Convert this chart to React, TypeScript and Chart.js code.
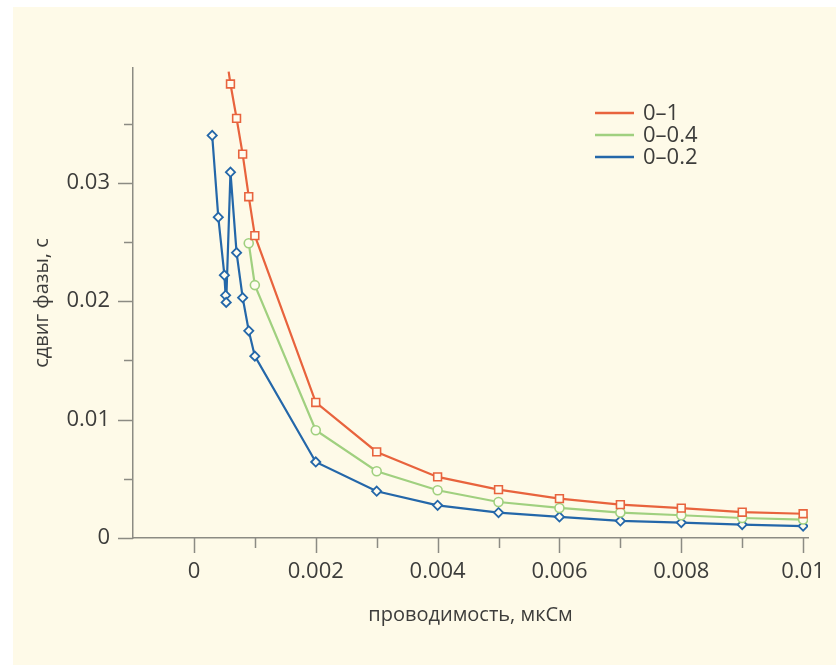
import { useEffect, useRef } from 'react';
import { Chart, registerables } from 'chart.js';

Chart.register(...registerables);

// ---- data ----
const seriesLabels = ['0–1', '0–0.4', '0–0.2'];

const xRed = [0.00057, 0.0006, 0.0007, 0.0008, 0.0009, 0.001, 0.002, 0.003, 0.004, 0.005, 0.006, 0.007, 0.008, 0.009, 0.01];
const yRed = [0.0394, 0.03835, 0.03545, 0.03243, 0.02883, 0.02554, 0.01145, 0.00727, 0.00516, 0.00409, 0.00333, 0.00282, 0.00252, 0.00218, 0.00205];

const xGreen = [0.0009, 0.001, 0.002, 0.003, 0.004, 0.005, 0.006, 0.007, 0.008, 0.009, 0.01];
const yGreen = [0.0249, 0.02136, 0.0091, 0.00564, 0.00403, 0.00304, 0.00254, 0.00215, 0.00192, 0.00169, 0.00156];

const xBlue = [0.0003, 0.0004, 0.0005, 0.00052, 0.00053, 0.0006, 0.0007, 0.0008, 0.0009, 0.001, 0.002, 0.003, 0.004, 0.005, 0.006, 0.007, 0.008, 0.009, 0.01];
const yBlue = [0.034, 0.0271, 0.0222, 0.0205, 0.0199, 0.0309, 0.0241, 0.0203, 0.0175, 0.01536, 0.00642, 0.00395, 0.00276, 0.00215, 0.00178, 0.00144, 0.0013, 0.00113, 0.00101];

const xMajorTicks = [0, 0.002, 0.004, 0.006, 0.008, 0.01];
const xTickLabels = ['0', '0.002', '0.004', '0.006', '0.008', '0.01'];
const xMinorTicks = [0.001, 0.003, 0.005, 0.007, 0.009];
const yMajorTicks = [0, 0.01, 0.02, 0.03];
const yTickLabels = ['0', '0.01', '0.02', '0.03'];
const yMinorTicks = [0.005, 0.015, 0.025, 0.035];

const xTitle = 'проводимость, мкСм';
const yTitle = 'сдвиг фазы, с';

// ---- styles ----
const BG = '#fefae8';
const MARKER_BG = '#fffcef';
const AXIS = '#8c8b83';
const TEXT = '#3d3d3b';
const RED = '#e8633d';
const GREEN = '#a0d07f';
const BLUE = '#2467a9';
const FONT = "'Open Sans', 'Noto Sans', sans-serif";

const zip = (xs: number[], ys: number[]) => xs.map((x, i) => ({ x, y: ys[i] }));

const ticksPlugin = {
  id: 'customTicks',
  afterDraw(chart: any) {
    const { ctx, chartArea, scales } = chart;
    const x = scales.x;
    const y = scales.y;
    ctx.save();
    ctx.strokeStyle = AXIS;
    ctx.lineWidth = 1.5;
    ctx.beginPath();
    xMajorTicks.forEach((v) => {
      const px = Math.round(x.getPixelForValue(v)) + 0.5;
      ctx.moveTo(px, chartArea.bottom);
      ctx.lineTo(px, chartArea.bottom + 15);
    });
    xMinorTicks.forEach((v) => {
      const px = Math.round(x.getPixelForValue(v)) + 0.5;
      ctx.moveTo(px, chartArea.bottom);
      ctx.lineTo(px, chartArea.bottom + 10);
    });
    yMajorTicks.forEach((v) => {
      const py = Math.round(y.getPixelForValue(v)) + 0.5;
      ctx.moveTo(chartArea.left, py);
      ctx.lineTo(chartArea.left - 15, py);
    });
    yMinorTicks.forEach((v) => {
      const py = Math.round(y.getPixelForValue(v)) + 0.5;
      ctx.moveTo(chartArea.left, py);
      ctx.lineTo(chartArea.left - 9, py);
    });
    ctx.stroke();
    ctx.restore();
  },
};

const legendPlugin = {
  id: 'customLegend',
  afterDraw(chart: any) {
    const { ctx, chartArea } = chart;
    ctx.save();
    ctx.font = `22px ${FONT}`;
    ctx.textBaseline = 'middle';
    ctx.textAlign = 'left';
    chart.data.datasets.forEach((ds: any, i: number) => {
      const yy = chartArea.top + 45 + i * 22;
      ctx.strokeStyle = ds.borderColor;
      ctx.lineWidth = 2.5;
      ctx.beginPath();
      ctx.moveTo(chartArea.left + 462, yy);
      ctx.lineTo(chartArea.left + 501, yy);
      ctx.stroke();
      ctx.fillStyle = TEXT;
      ctx.fillText(ds.label, chartArea.left + 510, yy + 1);
    });
    ctx.restore();
  },
};

export default function App() {
  const ref = useRef<HTMLCanvasElement>(null);

  useEffect(() => {
    if (!ref.current) return;
    const chart = new Chart(ref.current, {
      type: 'line',
      data: {
        datasets: [
          {
            label: seriesLabels[0],
            data: zip(xRed, yRed),
            borderColor: RED,
            backgroundColor: RED,
            borderWidth: 2.2,
            pointStyle: 'rect',
            pointRadius: xRed.map((_, i) => (i === 0 ? 0 : 5.5)),
            pointBackgroundColor: MARKER_BG,
            pointBorderColor: RED,
            pointBorderWidth: 1.6,
            tension: 0,
          },
          {
            label: seriesLabels[1],
            data: zip(xGreen, yGreen),
            borderColor: GREEN,
            backgroundColor: GREEN,
            borderWidth: 2.2,
            pointStyle: 'circle',
            pointRadius: 4.5,
            pointBackgroundColor: MARKER_BG,
            pointBorderColor: GREEN,
            pointBorderWidth: 1.6,
            tension: 0,
          },
          {
            label: seriesLabels[2],
            data: zip(xBlue, yBlue),
            borderColor: BLUE,
            backgroundColor: BLUE,
            borderWidth: 2.2,
            pointStyle: 'rectRot',
            pointRadius: 4.6,
            pointBackgroundColor: MARKER_BG,
            pointBorderColor: BLUE,
            pointBorderWidth: 1.8,
            tension: 0,
          },
        ],
      },
      options: {
        animation: false,
        responsive: false,
        layout: { padding: { left: 0, top: 61, right: 28, bottom: 0 } },
        plugins: {
          legend: { display: false },
          tooltip: { enabled: false },
        },
        scales: {
          x: {
            type: 'linear',
            min: -0.001,
            max: 0.01008,
            afterBuildTicks: (scale: any) => {
              scale.ticks = xMajorTicks.map((v) => ({ value: v }));
            },
            afterFit: (scale: any) => {
              scale.height = 127;
              scale.paddingLeft = 0;
              scale.paddingRight = 0;
            },
            grid: { display: false, drawTicks: false },
            border: { display: true, color: AXIS, width: 1.5 },
            ticks: {
              autoSkip: false,
              maxRotation: 0,
              padding: 21,
              color: TEXT,
              font: { family: FONT, size: 22 },
              callback: (_v: any, i: number) => xTickLabels[i],
            },
            title: {
              display: true,
              text: xTitle,
              color: TEXT,
              font: { family: FONT, size: 20 },
              padding: { top: 0, bottom: 38 },
            },
          },
          y: {
            type: 'linear',
            min: 0,
            max: 0.0397,
            afterBuildTicks: (scale: any) => {
              scale.ticks = yMajorTicks.map((v) => ({ value: v }));
            },
            afterFit: (scale: any) => {
              scale.width = 120;
              scale.paddingTop = 0;
              scale.paddingBottom = 0;
            },
            grid: { display: false, drawTicks: false },
            border: { display: true, color: AXIS, width: 1.5 },
            ticks: {
              autoSkip: false,
              padding: 23,
              color: TEXT,
              font: { family: FONT, size: 22 },
              callback: (_v: any, i: number) => yTickLabels[i],
            },
            title: {
              display: true,
              text: yTitle,
              color: TEXT,
              font: { family: FONT, size: 20 },
              padding: { top: 17, bottom: 0 },
            },
          },
        },
      },
      plugins: [ticksPlugin, legendPlugin],
    } as any);
    return () => chart.destroy();
  }, []);

  return (
    <div
      style={{
        position: 'absolute',
        left: 13,
        top: 7,
        width: 823,
        height: 658,
        background: BG,
      }}
    >
      <canvas ref={ref} width={823} height={658} style={{ display: 'block' }} />
    </div>
  );
}
